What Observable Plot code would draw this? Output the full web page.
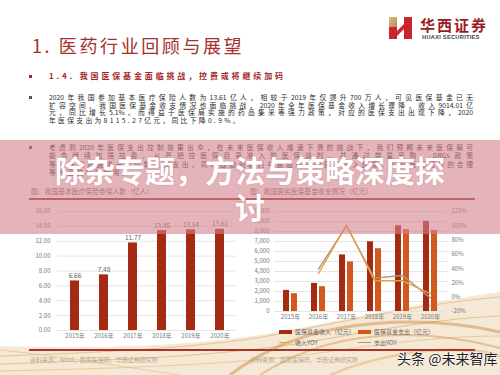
<!DOCTYPE html>
<html><head><meta charset="utf-8">
<script src="https://cdn.jsdelivr.net/npm/d3@7"></script>
<script src="https://cdn.jsdelivr.net/npm/@observablehq/plot@0.6"></script>
<style>
html,body{margin:0;padding:0;background:#fff;}
#page{position:relative;width:500px;height:375px;overflow:hidden;background:#fff;font-family:"Noto Sans CJK SC","Noto Sans",sans-serif;}
.abs{position:absolute;white-space:nowrap;}
.pl{position:absolute;left:49px;width:424px;font-size:6.8px;line-height:8px;height:8px;color:#2a2a2a;text-align:justify;text-align-last:justify;white-space:nowrap;}
.bul{position:absolute;left:29px;width:3px;height:3px;background:#555;}
.leg{position:absolute;font-size:6px;line-height:8px;color:#666;white-space:nowrap;}
</style></head>
<body>
<div id="page">
  <svg class="abs" style="left:0;top:0" width="500" height="375">
    <path d="M0,375 L0,346 C120,350 220,344 300,328 C380,312 440,300 500,292 L500,375 Z" fill="#f4e5d0" opacity="0.9"/>
    <path d="M0,356 C110,352 210,348 290,332 C370,316 430,303 500,297" fill="none" stroke="#dcb37c" stroke-width="1" opacity="0.7"/>
    <path d="M0,364 C120,360 230,356 320,340 C400,326 450,318 500,316" fill="none" stroke="#d8a866" stroke-width="1.2" opacity="0.6"/>
    <path d="M0,371 C140,368 250,364 340,350 C410,340 460,336 500,336" fill="none" stroke="#e2bd88" stroke-width="1" opacity="0.7"/>
    <path d="M230,375 C260,352 295,336 340,328 C400,318 455,322 500,332" fill="none" stroke="#c98d45" stroke-width="3" opacity="0.5"/>
    <path d="M260,375 C290,356 320,344 360,338 C420,330 470,340 500,348" fill="none" stroke="#cf9a55" stroke-width="2" opacity="0.5"/>
    <path d="M330,375 C360,362 400,352 440,350 C470,349 490,352 500,356" fill="none" stroke="#d9ab6c" stroke-width="2.5" opacity="0.45"/>
    <path d="M0,350 C60,356 130,368 180,375" fill="none" stroke="#e0b985" stroke-width="1" opacity="0.6"/>
  </svg>

  <div class="abs" style="left:32px;top:33px;font-size:18px;line-height:24px;letter-spacing:2.6px;color:#a3302b;">1. 医药行业回顾与展望</div>

  <svg class="abs" style="left:389px;top:17px" width="25" height="22" viewBox="0 0 25 22">
    <defs><linearGradient id="gd" x1="0" y1="0" x2="1" y2="1"><stop offset="0" stop-color="#d9bd8c"/><stop offset="1" stop-color="#b58d52"/></linearGradient></defs>
    <rect x="0" y="0" width="8" height="10" fill="url(#gd)"/>
    <rect x="0" y="10" width="8" height="12" fill="#c8262b"/>
    <rect x="15" y="0" width="8" height="22" fill="#c8262b"/>
    <polygon points="8,14 15,7 15,12 8,19" fill="#c8262b"/>
  </svg>
  <div class="abs" style="left:420px;top:15px;font-size:15px;line-height:20px;font-weight:bold;letter-spacing:2px;color:#9b1c1f;">华西证券</div>
  <div class="abs" style="left:422px;top:34px;font-family:'Liberation Sans',sans-serif;font-size:5.8px;line-height:7px;font-weight:bold;color:#444;letter-spacing:0.2px;">HUAXI SECURITIES</div>

  <div class="bul" style="top:74.5px;background:#a3282a"></div>
  <div class="abs" style="left:49px;top:71px;font-size:8px;line-height:10px;font-weight:bold;color:#a3282a;letter-spacing:2.85px;">1.4. 我国医保基金面临挑战，控费或将继续加码</div>

  <div class="bul" style="top:95.5px"></div>
  <div class="pl" style="top:92.7px">2020年我国参加基本医疗保险人数为13.61亿人，相较于2019年仅提升700万人，可见医保基金已无</div>
  <div class="pl" style="top:100.5px">扩容空间。我国医保基金收支情况也面临挑战，2020年全年医保基金收入增长骤降，收入9014.01亿</div>
  <div class="pl" style="top:108.3px">元，同比增长5.1%。而得益于医保局实施的药品集采等强力政策，对应的医保支出出现下降，2020</div>
  <div class="pl" style="top:116px;width:auto;text-align:left;text-align-last:auto;letter-spacing:2.3px;">年医保支出为8115.27亿元，同比下降0.9%。</div>

  <div class="bul" style="top:146px"></div>
  <div class="pl" style="top:143.3px">考虑到2020年医保支出控制效果出众，在未来医保收入增速下滑的挑战下，我们预期未来医保局可</div>
  <div class="pl" style="top:151.4px">能会继续加强控费，从严把控医保目录准入的医保谈判，并通过带量采购、DRGs政策</div>
  <div class="pl" style="top:159.5px">等一系列措施进一步控制医保支出，同时鼓励创新药与高临床价值药品进入医保，实现医保资金的合理</div>
  <div class="pl" style="top:167.6px;width:auto;text-align:left;text-align-last:auto;letter-spacing:2.3px;">等方面的有效使用。</div>

  <div class="abs" style="left:31px;top:187px;font-size:6.8px;line-height:8px;color:#7a6060;">图：我国基本医疗保险参保人数（亿人）</div>
  <div class="abs" style="left:250px;top:187px;font-size:6.8px;line-height:8px;color:#7a6060;">图：我国居民医保基金收支情况（亿元）</div>
  <div class="abs" style="left:29px;top:198.4px;width:446px;height:1.3px;background:#a8352c;"></div>

  <div id="left" class="abs" style="left:20px;top:200px;"></div>
  <div id="right" class="abs" style="left:250px;top:200px;"></div>

  <div id="legend"></div>

  <div class="abs" style="left:29px;top:349.3px;width:446px;height:1.3px;background:#a8352c;"></div>
  <div class="abs" style="left:30px;top:356px;font-size:6px;line-height:8px;color:#b9a48c;">资料来源：wind，国家医保局，华西证券研究所</div>
  <div class="abs" style="left:250px;top:356px;font-size:6px;line-height:8px;color:#b9a48c;">资料来源：国家医保局，华西证券研究所</div>

  <div class="abs" style="left:0;top:140px;width:500px;height:94px;background:rgba(212,130,142,0.6);"></div>
  <div class="abs" style="left:0;top:151px;width:500px;text-align:center;font-size:30px;line-height:37px;font-weight:bold;color:#fff;text-shadow:0 0 2px rgba(120,40,50,0.25);">除杂专题，方法与策略深度探<br>讨</div>

  <div class="abs" style="left:397px;top:348px;font-size:14px;line-height:20px;color:#1e1e1e;text-shadow:0 0 2px #fff,0 0 2px #fff;">头条 @未来智库</div>
</div>

<script>
const years = ["2015年","2016年","2017年","2018年","2019年","2020年"];
const insuredPeople = [6.66, 7.48, 11.77, 13.45, 13.54, 13.61];
const peopleTicks = [0, 2, 4, 6, 8, 10, 12, 14, 16];

const fundIncome = [2109, 2811, 5653, 6971, 8575, 9014];
const fundExpense = [1781, 2480, 4955, 6277, 8191, 8115];
const yoyYears = ["2016年","2017年","2018年","2019年","2020年"];
const incomeYoY = [33.3, 101.1, 23.3, 23.0, 5.1];
const expenseYoY = [39.2, 99.8, 26.7, 30.5, -0.9];
const amountTicks = [0, 1000, 2000, 3000, 4000, 5000, 6000, 7000, 8000, 9000, 10000];
const pctTicks = [-20, 0, 20, 40, 60, 80, 100, 120];
const legendLabels = ["医保基金收入（亿元）", "医保基金支出（亿元）", "收入YOY", "支出YOY"];

const C_INCOME = "#a52a12", C_EXPENSE = "#d2581e", C_INC_YOY = "#e9a23b", C_EXP_YOY = "#a8998a";
const font = '"Noto Sans CJK SC", "Noto Sans", sans-serif';

// Left chart
const peopleData = years.map((y, i) => ({year: y, v: insuredPeople[i]}));
const left = Plot.plot({
  width: 230, height: 145,
  marginLeft: 37, marginRight: 14, marginTop: 11, marginBottom: 15,
  x: {domain: years, paddingInner: 0.69, paddingOuter: 0.35, label: null},
  y: {domain: [0, 16], label: null},
  style: {fontSize: "6px", fontFamily: font, color: "#777", background: "transparent", overflow: "visible"},
  marks: [
    Plot.gridY(peopleTicks, {stroke: "#e4e4e4", strokeOpacity: 1}),
    Plot.axisY(peopleTicks, {tickSize: 0, tickPadding: 7, tickFormat: d3.format(".2f"), label: null}),
    Plot.axisX({tickSize: 0, tickPadding: 3, label: null}),
    Plot.barY(peopleData, {x: "year", y: "v", fill: C_INCOME}),
    Plot.text(peopleData, {x: "year", y: "v", text: d => d.v.toFixed(2), dy: -5, fill: "#666", fontSize: 6.5})
  ]
});
document.getElementById("left").appendChild(left);

// Right chart
const toAmt = p => (p - pctTicks[0]) / (pctTicks[pctTicks.length - 1] - pctTicks[0]) * amountTicks[amountTicks.length - 1];
const fromAmt = v => v / amountTicks[amountTicks.length - 1] * (pctTicks[pctTicks.length - 1] - pctTicks[0]) + pctTicks[0];
const incomeData = years.map((y, i) => ({year: y, v: fundIncome[i]}));
const expenseData = years.map((y, i) => ({year: y, v: fundExpense[i]}));
const incYoYData = yoyYears.map((y, i) => ({year: y, p: incomeYoY[i]}));
const expYoYData = yoyYears.map((y, i) => ({year: y, p: expenseYoY[i]}));

const right = Plot.plot({
  width: 240, height: 126,
  marginLeft: 24, marginRight: 43, marginTop: 11, marginBottom: 15,
  x: {domain: years, paddingInner: 0.486, paddingOuter: 0.3, label: null},
  y: {domain: [0, 10000], label: null},
  style: {fontSize: "6px", fontFamily: font, color: "#777", background: "transparent", overflow: "visible"},
  marks: [
    Plot.gridY(amountTicks, {stroke: "#e4e4e4", strokeOpacity: 1}),
    Plot.axisY(amountTicks, {tickSize: 0, tickPadding: 5, tickFormat: d3.format(","), label: null}),
    Plot.axisY(pctTicks.map(toAmt), {anchor: "right", tickSize: 0, tickPadding: 4, tickFormat: v => Math.round(fromAmt(v)) + "%", label: null}),
    Plot.axisX({tickSize: 0, tickPadding: 3, label: null}),
    Plot.barY(incomeData, {x: "year", y: "v", fill: C_INCOME, insetRight: 8}),
    Plot.barY(expenseData, {x: "year", y: "v", fill: C_EXPENSE, insetLeft: 8}),
    Plot.lineY(expYoYData, {x: "year", y: d => toAmt(d.p), stroke: C_EXP_YOY, strokeWidth: 1.4}),
    Plot.lineY(incYoYData, {x: "year", y: d => toAmt(d.p), stroke: C_INC_YOY, strokeWidth: 1.4})
  ]
});
document.getElementById("right").appendChild(right);

// Legend
const lg = document.getElementById("legend");
const legendItems = [
  {label: legendLabels[0], color: C_INCOME, kind: "rect", x: 279, y: 332},
  {label: legendLabels[1], color: C_EXPENSE, kind: "rect", x: 358, y: 332},
  {label: legendLabels[2], color: C_INC_YOY, kind: "line", x: 279, y: 342.5},
  {label: legendLabels[3], color: C_EXP_YOY, kind: "line", x: 358, y: 342.5}
];
for (const it of legendItems) {
  const sw = document.createElement("div");
  const h = it.kind === "rect" ? 4 : 1.3;
  sw.style.cssText = `position:absolute;left:${it.x}px;top:${it.y - h / 2}px;width:13px;height:${h}px;background:${it.color};`;
  lg.appendChild(sw);
  const t = document.createElement("div");
  t.className = "leg";
  t.style.left = (it.x + 16) + "px";
  t.style.top = (it.y - 4) + "px";
  t.textContent = it.label;
  lg.appendChild(t);
}
</script>
</body></html>
